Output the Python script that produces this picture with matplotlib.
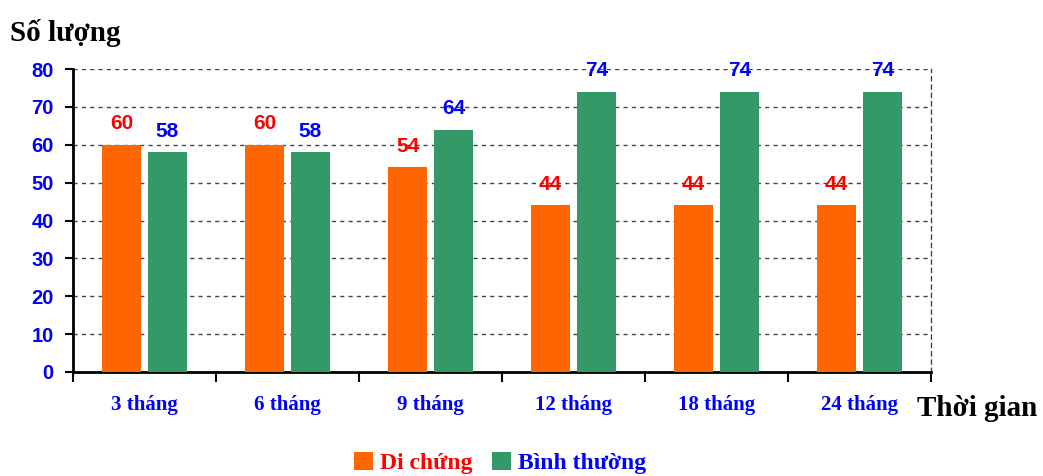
import matplotlib
matplotlib.use("Agg")
import matplotlib.pyplot as plt
from matplotlib.patches import Patch
import numpy as np

categories = ["3 tháng", "6 tháng", "9 tháng", "12 tháng", "18 tháng", "24 tháng"]
di_chung = [60, 60, 54, 44, 44, 44]
binh_thuong = [58, 58, 64, 74, 74, 74]
series_names = ["Di chứng", "Bình thường"]
y_ticks = [0, 10, 20, 30, 40, 50, 60, 70, 80]

ORANGE = "#FF6600"
GREEN = "#339966"
BLUE = "#0000FF"
RED = "#FF0000"

SERIF = ["Liberation Serif", "DejaVu Serif"]
SANS = ["Liberation Sans", "DejaVu Sans"]

fig = plt.figure(figsize=(10.43, 4.76), dpi=100)
ax = fig.add_axes([0.070, 0.2185, 0.8226, 0.6365])

x = np.arange(len(categories))
w = 0.273
off = 0.16
b1 = ax.bar(x - off, di_chung, w, color=ORANGE, zorder=3)
b2 = ax.bar(x + off, binh_thuong, w, color=GREEN, zorder=3)

for rect, v in zip(b1, di_chung):
    ax.annotate(f"{v}", (rect.get_x() + rect.get_width() / 2, v),
                xytext=(0, 11), textcoords="offset points", ha="center",
                va="baseline", color=RED, fontsize=15, fontweight="bold",
                family=SANS)
for rect, v in zip(b2, binh_thuong):
    ax.annotate(f"{v}", (rect.get_x() + rect.get_width() / 2, v),
                xytext=(0, 11), textcoords="offset points", ha="center",
                va="baseline", color=BLUE, fontsize=15, fontweight="bold",
                family=SANS)

ax.set_xlim(-0.5, len(categories) - 0.5)
ax.set_ylim(0, 80)
ax.set_yticks(y_ticks)
ax.set_yticklabels([str(t) for t in y_ticks], color=BLUE, fontsize=14.5,
                   fontweight="bold", family=SANS)
ax.tick_params(axis="y", direction="out", length=6, width=1.5, pad=8)

# group boundary ticks on x, category names centred in each group
ax.set_xticks(np.arange(len(categories) + 1) - 0.5)
ax.set_xticklabels([])
ax.tick_params(axis="x", direction="out", length=7, width=1.5)
for xi, lab in zip(x, categories):
    ax.text(xi, -0.11, lab, transform=ax.get_xaxis_transform(),
            ha="center", va="center", color=BLUE, fontsize=15,
            fontweight="bold", family=SERIF)

ax.grid(axis="y", linestyle=(0, (3, 3)), color="#444444", linewidth=1, zorder=0)
for s in ("left", "bottom"):
    ax.spines[s].set_linewidth(2)
    ax.spines[s].set_color("black")
ax.spines["top"].set_visible(False)
ax.spines["right"].set_linestyle((0, (3, 3)))
ax.spines["right"].set_color("#444444")
ax.spines["right"].set_linewidth(1)

fig.text(10 / 1043, 1 - 33 / 476, "Số lượng", ha="left", va="center",
         fontsize=21, fontweight="bold", family=SERIF)
fig.text(917 / 1043, 1 - 409 / 476, "Thời gian", ha="left", va="center",
         fontsize=21, fontweight="bold", family=SERIF)

handles = [Patch(facecolor=ORANGE, edgecolor="none"),
           Patch(facecolor=GREEN, edgecolor="none")]
leg = fig.legend(handles, series_names, loc="center",
                 bbox_to_anchor=(500 / 1043, 1 - 463 / 476), ncol=2,
                 frameon=False, handlelength=0.8, handleheight=0.8,
                 handletextpad=0.3, columnspacing=0.8,
                 prop={"family": SERIF, "weight": "bold", "size": 17})
for t, c in zip(leg.get_texts(), [RED, BLUE]):
    t.set_color(c)

fig.savefig("out.png", dpi=100)
